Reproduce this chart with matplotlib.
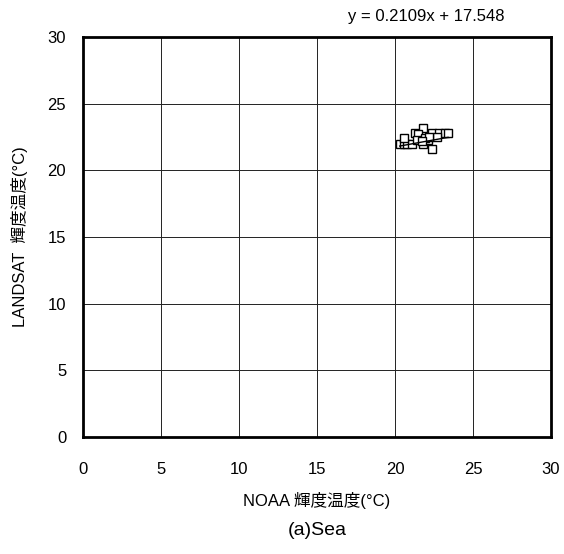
import matplotlib.pyplot as plt
import numpy as np

plt.rcParams['font.family'] = ['Liberation Sans', 'Noto Sans CJK JP']

# NOAA vs LANDSAT brightness temperature (sea)
noaa = [20.3, 20.6, 20.8, 21.1, 20.6, 21.3, 21.8, 21.5, 21.8, 21.4,
        22.4, 22.1, 22.4, 22.8, 23.2, 23.4, 22.7, 21.9, 22.2, 21.7]
landsat = [22.0, 22.0, 22.0, 22.0, 22.4, 22.8, 23.2, 22.7, 22.0, 22.3,
           21.6, 22.3, 22.8, 22.8, 22.8, 22.8, 22.5, 22.4, 22.5, 22.2]
slope = 0.2109
intercept = 17.548
ticks = [0, 5, 10, 15, 20, 25, 30]

fig = plt.figure(figsize=(5.64, 5.54), dpi=100)
ax = fig.add_axes([0.147, 0.211, 0.830, 0.722])

ax.plot(noaa, landsat, linestyle='none', marker='s', markersize=6,
        markerfacecolor='white', markeredgecolor='black', markeredgewidth=1.0, zorder=3)

xfit = np.array([min(noaa), max(noaa)])
ax.plot(xfit, slope * xfit + intercept, color='black', linewidth=1.0, zorder=4)

ax.set_xlim(0, 30)
ax.set_ylim(0, 30)
ax.set_xticks(ticks)
ax.set_yticks(ticks)
ax.grid(True, color='#222222', linewidth=0.7)
ax.set_axisbelow(True)
for s in ax.spines.values():
    s.set_linewidth(2)
ax.tick_params(axis='both', length=0, labelsize=12)
ax.tick_params(axis='x', pad=18)
ax.tick_params(axis='y', pad=12)

ax.set_xlabel('NOAA 輝度温度(°C)', fontsize=12, labelpad=11)
ax.set_ylabel('LANDSAT  輝度温度(°C)', fontsize=12, labelpad=14)

fig.text(0.755, 0.97, 'y = 0.2109x + 17.548', fontsize=12, ha='center', va='center')
fig.text(0.563, 0.043, '(a)Sea', fontsize=14, ha='center', va='center')

fig.savefig('out.png', dpi=100)
